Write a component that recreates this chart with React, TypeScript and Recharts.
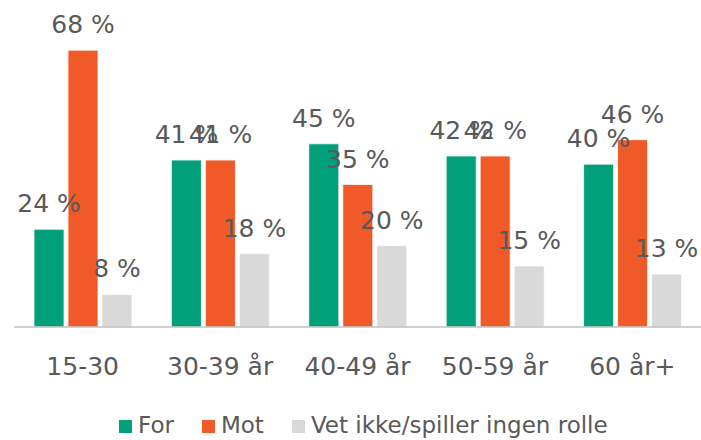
import React from "react";
import { BarChart, Bar, XAxis, YAxis, LabelList, Legend } from "recharts";

const categories = ["15-30", "30-39 år", "40-49 år", "50-59 år", "60 år+"];
const forValues = [24, 41, 45, 42, 40];
const motValues = [68, 41, 35, 42, 46];
const vetIkkeValues = [8, 18, 20, 15, 13];

const seriesNames = ["For", "Mot", "Vet ikke/spiller ingen rolle"];
const colors = ["#02A07A", "#F05A28", "#D9D9D9"];

const data = categories.map((c, i) => ({
  name: c,
  For: forValues[i],
  Mot: motValues[i],
  Vet: vetIkkeValues[i],
}));

const FONT = "'DejaVu Sans', sans-serif";
const TEXT = "#595959";

const ValueLabel = (props: any) => {
  const { x, y, width, value } = props;
  return (
    <text
      x={Number(x) + Number(width) / 2}
      y={Number(y) - 17}
      textAnchor="middle"
      fill={TEXT}
      fontSize={25}
      fontFamily={FONT}
    >
      {`${value} %`}
    </text>
  );
};

const LegendContent = () => (
  <div
    style={{
      height: 34,
      paddingTop: 4,
      boxSizing: "border-box",
      display: "flex",
      justifyContent: "flex-start",
      paddingLeft: 105,
      fontFamily: FONT,
      fontSize: 23,
      color: TEXT,
      lineHeight: "30px",
    }}
  >
    {seriesNames.map((n, i) => (
      <div key={n} style={{ display: "flex", alignItems: "center", marginRight: 28 }}>
        <span
          style={{
            display: "inline-block",
            width: 13,
            height: 13,
            background: colors[i],
            marginRight: 6,
            marginTop: 3,
          }}
        />
        <span style={{ whiteSpace: "nowrap" }}>{n}</span>
      </div>
    ))}
  </div>
);

export default function App() {
  return (
    <div style={{ position: "absolute", left: 0, top: 0, width: 701, height: 440, overflow: "hidden" }}>
      <BarChart
        width={701}
        height={440}
        data={data}
        margin={{ top: 42, right: 0, left: 14, bottom: 0 }}
        barSize={30}
        barGap={4}
        style={{ fontFamily: FONT }}
      >
        <XAxis
          dataKey="name"
          height={79}
          tickLine={false}
          tickSize={0}
          tickMargin={30}
          axisLine={{ stroke: "#BFBFBF", strokeWidth: 1.5 }}
          tick={{ fill: TEXT, fontSize: 25, fontFamily: FONT }}
          interval={0}
        />
        <YAxis hide domain={[0, 70]} />
        <Legend verticalAlign="bottom" height={34} content={<LegendContent />} />
        <Bar dataKey="For" name={seriesNames[0]} fill={colors[0]} stroke="#ffffff" strokeWidth={0.75} isAnimationActive={false}>
          <LabelList dataKey="For" content={<ValueLabel />} />
        </Bar>
        <Bar dataKey="Mot" name={seriesNames[1]} fill={colors[1]} stroke="#ffffff" strokeWidth={0.75} isAnimationActive={false}>
          <LabelList dataKey="Mot" content={<ValueLabel />} />
        </Bar>
        <Bar dataKey="Vet" name={seriesNames[2]} fill={colors[2]} stroke="#ffffff" strokeWidth={0.75} isAnimationActive={false}>
          <LabelList dataKey="Vet" content={<ValueLabel />} />
        </Bar>
      </BarChart>
    </div>
  );
}
